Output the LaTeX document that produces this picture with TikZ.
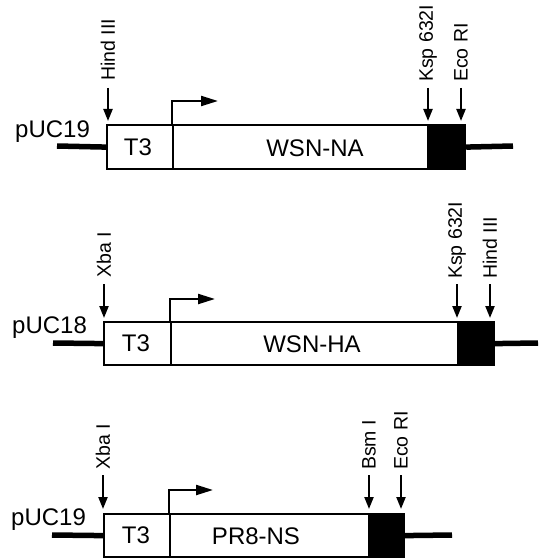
\documentclass[tikz,border=0pt]{standalone}
\usepackage{fontspec}
\setmainfont{Liberation Sans}
\usetikzlibrary{arrows.meta}
\begin{document}
\begin{tikzpicture}[x=1pt,y=-1pt,
  seg/.style={draw=black,line width=2.2pt,fill=white,inner sep=0pt,anchor=north west},
  blk/.style={draw=black,line width=2.2pt,fill=black,inner sep=0pt,anchor=north west},
  big/.style={font=\fontsize{24}{28}\selectfont,inner sep=0pt},
  site/.style={font=\fontsize{19.5}{22}\selectfont,rotate=90,anchor=west,inner sep=0pt},
  vec/.style={line width=5.5pt},
  cut/.style={line width=2.2pt,-{Triangle[length=12pt,width=9pt]}},
  prom/.style={line width=2.2pt,-{Triangle[length=17pt,width=10pt]}}]
\useasboundingbox (0,0) rectangle (538,559);

% ---------- row 1 ----------
\node[seg,minimum width=66pt,minimum height=44pt] (t1) at (106,124) {};
\node[big] (t1l) at (138,147) {T3};
\node[seg,minimum width=255pt,minimum height=44pt] (g1) at (172,124) {};
\node[big] (g1l) at (315,148) {WSN-NA};
\node[blk,minimum width=37pt,minimum height=44pt] (k1) at (427,124) {};
\coordinate (s1) at (57,146);
\coordinate (e1) at (513,146);
\draw[vec] (s1) -- (t1.west);
\draw[vec] (k1.east) -- (e1);
\node[big,anchor=base west] (p1) at (15,137) {pUC19};
\coordinate (p1a) at (218,101);
\draw[prom] (g1.north west) |- (p1a);
\coordinate (a1s) at (108,88);  \coordinate (a1e) at (108,121);
\coordinate (b1s) at (428,88);  \coordinate (b1e) at (428,121);
\coordinate (c1s) at (461,88);  \coordinate (c1e) at (461,121);
\draw[cut] (a1s) -- (a1e);
\draw[cut] (b1s) -- (b1e);
\draw[cut] (c1s) -- (c1e);
\node[site] (a1l) at (108,81) {Hind III};
\node[site] (b1l) at (428,82) {Ksp 632I};
\node[site] (c1l) at (461,82) {Eco RI};

% ---------- row 2 ----------
\node[seg,minimum width=67pt,minimum height=43pt] (t2) at (103,321) {};
\node[big] (t2l) at (136,343) {T3};
\node[seg,minimum width=287pt,minimum height=43pt] (g2) at (170,321) {};
\node[big] (g2l) at (312,344) {WSN-HA};
\node[blk,minimum width=36pt,minimum height=43pt] (k2) at (457,321) {};
\coordinate (s2) at (53,343);
\coordinate (e2) at (538,343);
\draw[vec] (s2) -- (t2.west);
\draw[vec] (k2.east) -- (e2);
\node[big,anchor=base west] (p2) at (12,333) {pUC18};
\coordinate (p2a) at (215,299);
\draw[prom] (g2.north west) |- (p2a);
\coordinate (a2s) at (104,284);  \coordinate (a2e) at (104,318);
\coordinate (b2s) at (457,284);  \coordinate (b2e) at (457,318);
\coordinate (c2s) at (490,284);  \coordinate (c2e) at (490,318);
\draw[cut] (a2s) -- (a2e);
\draw[cut] (b2s) -- (b2e);
\draw[cut] (c2s) -- (c2e);
\node[site] (a2l) at (104,278) {Xba I};
\node[site] (b2l) at (457,279) {Ksp 632I};
\node[site] (c2l) at (490,279) {Hind III};

% ---------- row 3 ----------
\node[seg,minimum width=66pt,minimum height=43pt] (t3) at (103,513) {};
\node[big] (t3l) at (136,535) {T3};
\node[seg,minimum width=199pt,minimum height=43pt] (g3) at (169,513) {};
\node[big] (g3l) at (256,536) {PR8-NS};
\node[blk,minimum width=35pt,minimum height=43pt] (k3) at (368,513) {};
\coordinate (s3) at (52,535);
\coordinate (e3) at (452,535);
\draw[vec] (s3) -- (t3.west);
\draw[vec] (k3.east) -- (e3);
\node[big,anchor=base west] (p3) at (11,525) {pUC19};
\coordinate (p3a) at (213,490);
\draw[prom] (g3.north west) |- (p3a);
\coordinate (a3s) at (103,475);  \coordinate (a3e) at (103,509);
\coordinate (b3s) at (369,475);  \coordinate (b3e) at (369,509);
\coordinate (c3s) at (401,475);  \coordinate (c3e) at (401,509);
\draw[cut] (a3s) -- (a3e);
\draw[cut] (b3s) -- (b3e);
\draw[cut] (c3s) -- (c3e);
\node[site] (a3l) at (103,470) {Xba I};
\node[site] (b3l) at (369,470) {Bsm I};
\node[site] (c3l) at (401,470) {Eco RI};
\end{tikzpicture}
\end{document}
